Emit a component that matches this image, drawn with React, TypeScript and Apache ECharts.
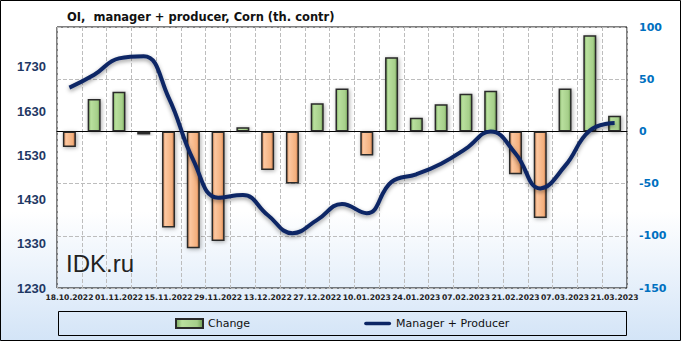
import React, { useEffect, useRef } from "react";
import * as echarts from "echarts";

const dates = [
  "18.10.2022", "25.10.2022", "01.11.2022", "08.11.2022", "15.11.2022", "22.11.2022",
  "29.11.2022", "06.12.2022", "13.12.2022", "20.12.2022", "27.12.2022", "03.01.2023",
  "10.01.2023", "17.01.2023", "24.01.2023", "31.01.2023", "07.02.2023", "14.02.2023",
  "21.02.2023", "28.02.2023", "07.03.2023", "14.03.2023", "21.03.2023",
];
const changeValues = [-15, 31, 38, -3, -92, -112, -105, 4, -37, -50, 27, 41, -23, 71, 13, 26, 36, 39, -41, -83, 41, 92, 15];
const managerProducer = [1683, 1712, 1749, 1754, 1661, 1519, 1434, 1440, 1395, 1354, 1384, 1420, 1399, 1470, 1487, 1511, 1545, 1584, 1534, 1455, 1506, 1586, 1603];
const leftTicks = { min: 1230, max: 1820, interval: 100 };
const rightTicks = { min: -150, max: 100, interval: 50 };

const W = 681;
const H = 341;

const greenGrad = () =>
  new echarts.graphic.LinearGradient(0, 0, 1, 0, [
    { offset: 0, color: "#7aa85e" },
    { offset: 0.22, color: "#b9e09e" },
    { offset: 0.78, color: "#a6cf8a" },
    { offset: 1, color: "#6c9a50" },
  ]);
const orangeGrad = () =>
  new echarts.graphic.LinearGradient(0, 0, 1, 0, [
    { offset: 0, color: "#d58a58" },
    { offset: 0.22, color: "#fcc7a0" },
    { offset: 0.78, color: "#f4b07e" },
    { offset: 1, color: "#c57647" },
  ]);

export default function App() {
  const ref = useRef<HTMLDivElement>(null);
  useEffect(() => {
    if (!ref.current) return;
    const chart = echarts.init(ref.current, null, { renderer: "svg", width: W, height: H });
    chart.setOption({
      animation: false,
      title: {
        text: "OI,  manager + producer, Corn (th. contr)",
        left: 62,
        top: 6,
        textStyle: { fontFamily: "DejaVu Sans", fontWeight: "bold", fontSize: 11.5, color: "#111" },
      },
      graphic: [
        {
          type: "rect",
          z: -10,
          silent: true,
          shape: { x: 0, y: 0, width: W, height: H },
          style: {
            fill: new echarts.graphic.LinearGradient(0, 0, 0, 1, [
              { offset: 0, color: "#ffffff" },
              { offset: 0.62, color: "#ffffff" },
              { offset: 1, color: "#d3e4f7" },
            ]),
          },
        },
        {
          type: "rect",
          z: 100,
          silent: true,
          shape: { x: 0.5, y: 0.5, width: W - 1, height: H - 1 },
          style: { fill: "none", stroke: "#000", lineWidth: 1 },
        },
        {
          type: "rect",
          z: 100,
          silent: true,
          shape: { x: 58.5, y: 311.5, width: 568, height: 24 },
          style: { fill: "none", stroke: "#000", lineWidth: 1 },
        },
        {
          type: "text",
          z: 100,
          silent: true,
          left: 66,
          top: 251,
          style: { text: "IDK.ru", fontFamily: "Liberation Sans", fontSize: 24, fill: "#222" },
        },
      ],
      legend: {
        left: 175,
        top: 318,
        padding: 0,
        itemWidth: 27,
        itemHeight: 9,
        itemGap: 114,
        textStyle: { fontFamily: "DejaVu Sans", fontSize: 11, color: "#111" },
        data: [
          { name: "Change", icon: "rect" },
          { name: "Manager + Producer", icon: "path://M2,0 L28,0 A2,2 0 0 1 28,4 L2,4 A2,2 0 0 1 2,0 Z" },
        ],
      },
      grid: {
        left: 57,
        right: 54,
        top: 27,
        bottom: 53,
        show: true,
        borderColor: "#000",
        borderWidth: 1,
        backgroundColor: "transparent",
      },
      xAxis: {
        type: "category",
        data: dates,
        boundaryGap: true,
        axisLine: { show: true, lineStyle: { color: "#000" } },
        axisTick: { show: false },
        splitLine: { show: true, interval: 0, lineStyle: { type: "dashed", color: "#bdbdbd" } },
        axisLabel: {
          interval: 1,
          margin: 5,
          hideOverlap: false,
          showMinLabel: true,
          showMaxLabel: true,
          fontFamily: "DejaVu Sans",
          fontWeight: "bold",
          fontSize: 7.6,
          color: "#222",
        },
      },
      yAxis: [
        {
          type: "value",
          position: "left",
          min: leftTicks.min,
          max: leftTicks.max,
          interval: leftTicks.interval,
          splitLine: { show: false },
          axisLine: { show: false },
          axisTick: { show: false },
          axisLabel: {
            showMaxLabel: false,
            margin: 11,
            formatter: (v: number) => String(v),
            fontFamily: "Liberation Sans",
            fontWeight: "bold",
            fontSize: 13,
            color: "#1f3864",
          },
        },
        {
          type: "value",
          position: "right",
          min: rightTicks.min,
          max: rightTicks.max,
          interval: rightTicks.interval,
          splitLine: { show: true, lineStyle: { type: "dashed", color: "#bdbdbd" } },
          axisLine: { show: false },
          axisTick: { show: false },
          axisLabel: {
            margin: 12,
            formatter: (v: number) => String(v),
            fontFamily: "DejaVu Sans",
            fontWeight: "bold",
            fontSize: 11,
            color: "#0070c0",
          },
        },
      ],
      series: [
        {
          name: "Change",
          type: "bar",
          yAxisIndex: 1,
          barWidth: 13,
          z: 2,
          itemStyle: {
            color: greenGrad(),
            borderColor: "#2a2a2a",
            borderWidth: 1.5,
            shadowBlur: 4,
            shadowColor: "rgba(0,0,0,0.35)",
            shadowOffsetX: 1,
            shadowOffsetY: 1,
          },
          data: changeValues.map((v) =>
            v < 0 ? { value: v, itemStyle: { color: orangeGrad() } } : { value: v }
          ),
        },
        {
          name: "Manager + Producer",
          type: "line",
          yAxisIndex: 0,
          smooth: 0.45,
          symbol: "none",
          z: 3,
          lineStyle: {
            width: 4,
            color: "#0b2565",
            shadowBlur: 4,
            shadowColor: "rgba(0,0,0,0.4)",
            shadowOffsetY: 2,
          },
          itemStyle: { color: "#0b2565" },
          data: managerProducer,
        },
      ],
    });
    return () => chart.dispose();
  }, []);
  return <div ref={ref} style={{ position: "absolute", left: 0, top: 0, width: W, height: H }} />;
}
